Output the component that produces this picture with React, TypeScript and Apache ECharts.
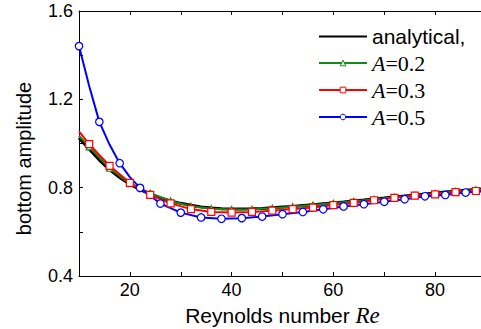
import React, { useEffect, useRef } from "react";
import * as echarts from "echarts";

const xTicks = [20, 40, 60, 80];
const yTicks = [0.4, 0.8, 1.2, 1.6];

const analyticalRe = [10, 12, 14, 16, 18, 20, 22, 24, 26, 28, 30, 32, 34, 36, 38, 40, 42, 44, 46, 48, 50, 52, 54, 56, 58, 60, 62, 64, 66, 68, 70, 72, 74, 76, 78, 80, 82, 84, 86, 88, 90];
const analyticalVal = [1.025, 0.975, 0.925, 0.882, 0.846, 0.816, 0.791, 0.771, 0.754, 0.740, 0.729, 0.720, 0.713, 0.708, 0.705, 0.703, 0.703, 0.704, 0.706, 0.709, 0.712, 0.715, 0.719, 0.723, 0.727, 0.731, 0.735, 0.740, 0.744, 0.749, 0.753, 0.758, 0.762, 0.767, 0.771, 0.776, 0.780, 0.784, 0.788, 0.792, 0.796];

const a02Re = [10, 12, 16, 20, 24, 28, 32, 36, 40, 44, 48, 52, 56, 60, 64, 68, 72, 76, 80, 84, 88, 90];
const a02Val = [1.035, 0.985, 0.888, 0.818, 0.775, 0.740, 0.716, 0.705, 0.701, 0.702, 0.707, 0.714, 0.721, 0.729, 0.738, 0.747, 0.757, 0.766, 0.774, 0.783, 0.790, 0.794];

const a03Re = [10, 12, 16, 20, 24, 28, 32, 36, 40, 44, 48, 52, 56, 60, 64, 68, 72, 76, 80, 84, 88, 90];
const a03Val = [1.055, 0.997, 0.899, 0.822, 0.767, 0.729, 0.703, 0.690, 0.687, 0.690, 0.696, 0.703, 0.710, 0.721, 0.731, 0.743, 0.754, 0.764, 0.770, 0.780, 0.785, 0.790];

const a05Re = [10, 12, 14, 16, 18, 20, 22, 26, 30, 34, 38, 42, 46, 50, 54, 58, 62, 66, 70, 74, 78, 82, 86, 90];
const a05Val = [1.441, 1.26, 1.098, 0.995, 0.911, 0.848, 0.799, 0.728, 0.687, 0.665, 0.659, 0.662, 0.669, 0.680, 0.690, 0.702, 0.715, 0.725, 0.736, 0.748, 0.761, 0.767, 0.778, 0.784];

const a02Markers = [12, 16, 20, 24, 28, 32, 36, 40, 44, 48, 52, 56, 60, 64, 68, 72, 76, 80, 84, 88];
const a03Markers = [12, 16, 20, 24, 28, 32, 36, 40, 44, 48, 52, 56, 60, 64, 68, 72, 76, 80, 84, 88];
const a05Markers = [10, 14, 18, 22, 26, 30, 34, 38, 42, 46, 50, 54, 58, 62, 66, 70, 74, 78, 82, 86];

const SANS = "'Liberation Sans', Arial, sans-serif";
const SERIF = "'Liberation Serif', 'Times New Roman', serif";
const GREEN = "#138a13";
const RED = "#ff0000";
const BLUE = "#0000ff";

function build(re: number[], val: number[], markers: number[]) {
  return re.map((r, i) => {
    const item: any = { value: [r, val[i]] };
    if (!markers.includes(r)) item.symbol = "none";
    return item;
  });
}

export default function App() {
  const ref = useRef<HTMLDivElement>(null);
  useEffect(() => {
    if (!ref.current) return;
    const chart = echarts.init(ref.current, null, { renderer: "svg" });
    const axisCommon = {
      axisLine: { show: true, lineStyle: { color: "#000", width: 1 } },
      axisTick: { show: true, inside: true, length: 4, lineStyle: { color: "#000" } },
      splitLine: { show: false },
    };
    chart.setOption({
      animation: false,
      backgroundColor: "#fff",
      grid: { left: 79, top: 11, right: -5, bottom: 53, containLabel: false, outerBoundsMode: "none" },
      legend: {
        orient: "vertical",
        left: 313,
        top: 21,
        itemWidth: 48,
        itemHeight: 7,
        itemGap: 5,
        data: [
          { name: "analytical,", itemStyle: { opacity: 0 } },
          { name: "A=0.2", itemStyle: { color: "#fff", borderColor: GREEN, borderWidth: 1 } },
          { name: "A=0.3", itemStyle: { color: "#fff", borderColor: RED, borderWidth: 1 } },
          { name: "A=0.5", itemStyle: { color: "#fff", borderColor: BLUE, borderWidth: 1 } },
        ],
        textStyle: {
          fontSize: 21,
          color: "#000",
          fontFamily: SANS,
          rich: {
            i: { fontFamily: SERIF, fontStyle: "italic", fontSize: 22, color: "#000" },
            n: { fontFamily: SERIF, fontSize: 22, color: "#000" },
          },
        },
        formatter: (name: string) => {
          if (name.startsWith("A=")) return "{i|A}{n|" + name.slice(1) + "}";
          return name;
        },
      },
      xAxis: [
        {
          type: "value",
          min: 10,
          max: 90,
          interval: 10,
          ...axisCommon,
          axisLabel: {
            fontSize: 18,
            color: "#000",
            fontFamily: SANS,
            margin: 5,
            formatter: (v: number) => (xTicks.includes(Math.round(v)) ? String(v) : ""),
          },
          name: "{a|Reynolds number }{b|Re}",
          nameLocation: "middle",
          nameGap: 17,
          nameTextStyle: {
            rich: {
              a: { fontFamily: SANS, fontSize: 21, color: "#000" },
              b: { fontFamily: SERIF, fontStyle: "italic", fontSize: 23, color: "#000" },
            },
          },
        },
        {
          type: "value",
          position: "top",
          min: 10,
          max: 90,
          interval: 10,
          ...axisCommon,
          axisLabel: { show: false },
        },
      ],
      yAxis: [
        {
          type: "value",
          min: 0.4,
          max: 1.6,
          interval: 0.2,
          ...axisCommon,
          axisLabel: {
            fontSize: 18,
            color: "#000",
            fontFamily: SANS,
            margin: 6,
            formatter: (v: number) => {
              const r = Math.round(v * 10) / 10;
              return yTicks.some((t) => Math.abs(t - r) < 1e-6) ? r.toFixed(1) : "";
            },
          },
          name: "bottom amplitude",
          nameLocation: "middle",
          nameGap: 45,
          nameTextStyle: { fontFamily: SANS, fontSize: 20, color: "#000", padding: [0, 30, 0, 0] },
        },
        {
          type: "value",
          position: "right",
          min: 0.4,
          max: 1.6,
          interval: 0.2,
          ...axisCommon,
          axisLabel: { show: false },
        },
      ],
      series: [
        {
          name: "analytical,",
          type: "line",
          symbol: "none",
          data: analyticalRe.map((r, i) => [r, analyticalVal[i]]),
          lineStyle: { color: "#000", width: 3 },
          itemStyle: { color: "#000" },
        },
        {
          name: "A=0.2",
          type: "line",
          symbol: "triangle",
          symbolSize: 6,
          data: build(a02Re, a02Val, a02Markers),
          lineStyle: { color: GREEN, width: 2 },
          itemStyle: { color: "#fff", borderColor: GREEN, borderWidth: 1.2 },
        },
        {
          name: "A=0.3",
          type: "line",
          symbol: "rect",
          symbolSize: 7,
          data: build(a03Re, a03Val, a03Markers),
          lineStyle: { color: RED, width: 2 },
          itemStyle: { color: "#fff", borderColor: RED, borderWidth: 1.2 },
        },
        {
          name: "A=0.5",
          type: "line",
          symbol: "circle",
          symbolSize: 7.5,
          data: build(a05Re, a05Val, a05Markers),
          lineStyle: { color: BLUE, width: 2 },
          itemStyle: { color: "#fff", borderColor: BLUE, borderWidth: 1.2 },
        },
      ],
    });
    return () => chart.dispose();
  }, []);
  return (
    <div
      ref={ref}
      style={{ position: "fixed", left: 0, top: 0, width: 481, height: 329, background: "#fff" }}
    />
  );
}
